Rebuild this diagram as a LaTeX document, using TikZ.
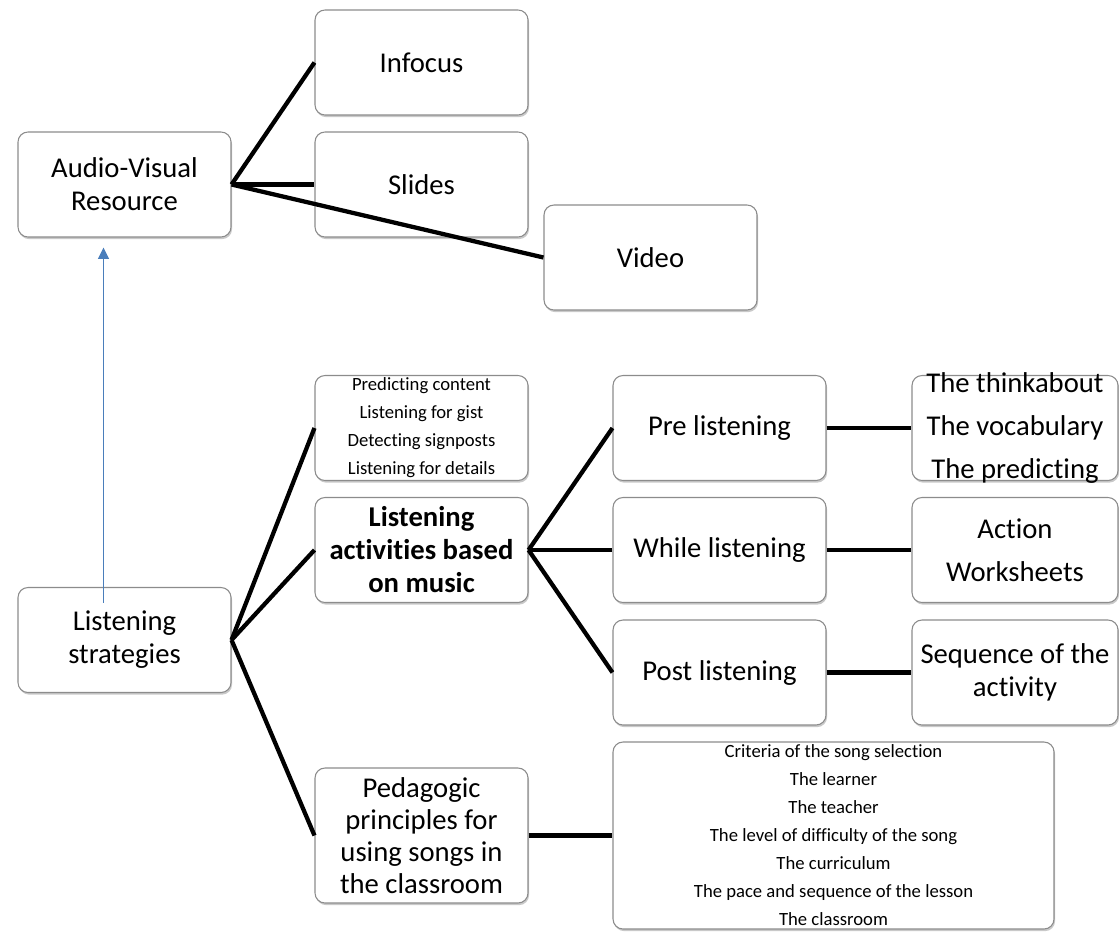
\documentclass[tikz,border=0pt]{standalone}
\usepackage{fontspec}
\setmainfont{Carlito}[Ligatures={NoCommon}]
\usetikzlibrary{arrows.meta, positioning, shadows}
\definecolor{boxgray}{HTML}{8C8C8C}
\definecolor{arrowblue}{HTML}{4A7EBB}

\begin{document}
\begin{tikzpicture}[x=0.75pt, y=-0.75pt,
	box/.style={draw=boxgray, line width=0.8pt, rounded corners=7.5pt, fill=white,
		align=center, inner sep=0pt, minimum width=159.75pt, minimum height=78.75pt,
		font=\fontsize{21.5}{24.75}\selectfont,
		drop shadow={shadow xshift=0.8pt, shadow yshift=-1.6pt, opacity=0.3, fill=black!70}},
	boldbox/.style={box, font=\fontsize{21.5}{24.75}\selectfont\bfseries},
	smalltext/.style={align=center, inner sep=0pt, font=\fontsize{14}{21}\selectfont},
	widetext/.style={align=center, inner sep=0pt, font=\fontsize{21.5}{32.25}\selectfont},
	link/.style={line width=3.2pt},
	uparrow/.style={draw=arrowblue, line width=1.4pt, -{Triangle[length=8.5pt, width=8pt]}}]
	\useasboundingbox (0,0) rectangle (1119,931);
	% Boxes:
	\node[box] (avr) at (124.5,184.5) {Audio-Visual\\Resource};
	\node[box] (infocus) at (421.5,62.5) {Infocus};
	\node[box] (slides) at (421.5,184.5) {Slides};
	\node[box] (video) at (650.5,257.5) {Video};
	\node[box] (strat) at (124.5,640) {Listening\\strategies};
	\node[box, label={[smalltext]center:Predicting content\\Listening for gist\\Detecting signposts\\Listening for details}] (predict) at (421.5,428) {};
	\node[boldbox] (activ) at (421.5,550) {Listening\\activities based\\on music};
	\node[box, minimum height=101.25pt, font=\fontsize{21.5}{24}\selectfont] (pedag) at (421.5,835.5) {Pedagogic\\principles for\\using songs in\\the classroom};
	\node[box] (pre) at (719.5,428) {Pre listening};
	\node[box] (while) at (719.5,550) {While listening};
	\node[box] (post) at (719.5,672.5) {Post listening};
	\node[box, minimum width=154.5pt, label={[widetext]center:The thinkabout\\The vocabulary\\The predicting}] (think) at (1015,428) {};
	\node[box, minimum width=154.5pt, label={[widetext]center:Action\\Worksheets}] (action) at (1015,550) {};
	\node[box, minimum width=154.5pt] (seq) at (1015,672.5) {Sequence of the\\activity};
	\node[box, minimum width=330.75pt, minimum height=140.25pt, label={[smalltext]center:Criteria of the song selection\\The learner\\The teacher\\The level of difficulty of the song\\The curriculum\\The pace and sequence of the lesson\\The classroom}] (criteria) at (833.5,835.5) {};
	% Connectors:
	\draw[link] (avr.east) -- (infocus.west);
	\draw[link] (avr.east) -- (slides.west);
	\draw[link] (avr.east) -- (video.west);
	\draw[link] (strat.east) -- (predict.west);
	\draw[link] (strat.east) -- (activ.west);
	\draw[link] (strat.east) -- (pedag.west);
	\draw[link] (activ.east) -- (pre.west);
	\draw[link] (activ.east) -- (while.west);
	\draw[link] (activ.east) -- (post.west);
	\draw[link] (pre.east) -- (think.west);
	\draw[link] (while.east) -- (action.west);
	\draw[link] (post.east) -- (seq.west);
	\draw[link] (pedag.east) -- (criteria.west);
	\draw[uparrow] ([xshift=-15.75pt, yshift=-12pt]strat.north) -- ([xshift=-15.75pt, yshift=-7.5pt]avr.south);
\end{tikzpicture}
\end{document}
